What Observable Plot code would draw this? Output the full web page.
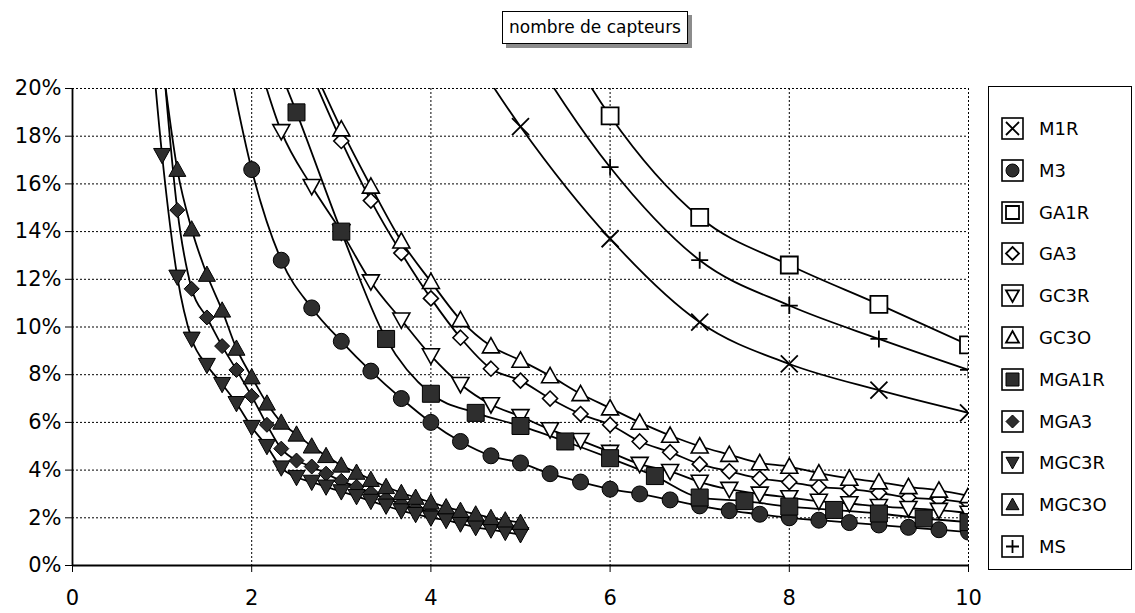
<!DOCTYPE html>
<html><head><meta charset="utf-8">
<script src="https://cdn.jsdelivr.net/npm/d3@7"></script>
<script src="https://cdn.jsdelivr.net/npm/@observablehq/plot@0.6"></script>
<style>
body{margin:0;background:#fff;font-family:"DejaVu Sans",sans-serif;}
#root{position:relative;width:1135px;height:613px;overflow:hidden;background:#fff}
#title{position:absolute;left:502px;top:11px;width:184px;height:31px;border:1px solid #000;background:#fff;box-shadow:4px 4px 0 #8c8c8c;font-size:17px;line-height:30px;text-align:center;color:#000}
#chart{position:absolute;left:0;top:48px}
#legend{position:absolute;left:988px;top:86px;width:144px;height:484px;border:1.5px solid #000;box-sizing:border-box;background:#fff}
.item{position:absolute;left:12px;display:flex;align-items:center;font-size:18px;color:#000}
.item svg{display:block;margin-right:15px}
</style>
</head><body>
<div id="root">
  <div id="title">nombre de capteurs</div>
  <div id="chart"></div>
  <div id="legend"></div>
</div>
<script>
// ---- data ----
const xTicks = [0, 2, 4, 6, 8, 10];
const yTicks = [0, 2, 4, 6, 8, 10, 12, 14, 16, 18, 20];
const seriesNames = ["M1R", "M3", "GA1R", "GA3", "GC3R", "GC3O", "MGA1R", "MGA3", "MGC3R", "MGC3O", "MS"];

const xUnits  = [4, 5, 6, 7, 8, 9, 10];
const xHalves = [2, 2.5, 3, 3.5, 4, 4.5, 5, 5.5, 6, 6.5, 7, 7.5, 8, 8.5, 9, 9.5, 10];
const xThirds = [1.67, 2, 2.33, 2.67, 3, 3.33, 3.67, 4, 4.33, 4.67, 5, 5.33, 5.67, 6, 6.33, 6.67, 7, 7.33, 7.67, 8, 8.33, 8.67, 9, 9.33, 9.67, 10];
const xSixths = [0.83, 1, 1.17, 1.33, 1.5, 1.67, 1.83, 2, 2.17, 2.33, 2.5, 2.67, 2.83, 3, 3.17, 3.33, 3.5, 3.67, 3.83, 4, 4.17, 4.33, 4.5, 4.67, 4.83, 5];

const M1R   = [24.2, 18.4, 13.7, 10.2, 8.45, 7.35, 6.4];
const GA1R  = [null, 25.3, 18.85, 14.6, 12.6, 10.95, 9.25];
const MS    = [null, 22.2, 16.7, 12.8, 10.9, 9.5, 8.2];
const MGA1R = [23.6, 19.0, 14.0, 9.5, 7.2, 6.4, 5.85, 5.2, 4.5, 3.75, 2.85, 2.7, 2.47, 2.33, 2.18, 1.97, 1.82];
const M3    = [22.5, 16.6, 12.8, 10.8, 9.4, 8.15, 7.0, 6.0, 5.2, 4.6, 4.3, 3.85, 3.5, 3.2, 3.0, 2.75, 2.5, 2.3, 2.15, 2.0, 1.9, 1.8, 1.7, 1.6, 1.5, 1.4];
const GC3R  = [null, 22.1, 18.2, 15.9, 14.0, 11.9, 10.3, 8.8, 7.6, 6.75, 6.25, 5.7, 5.25, 4.75, 4.25, 3.95, 3.5, 3.2, 3.0, 2.85, 2.7, 2.6, 2.48, 2.4, 2.32, 2.2];
const GA3   = [null, null, null, 20.6, 17.8, 15.3, 13.1, 11.2, 9.55, 8.25, 7.75, 7.0, 6.35, 5.9, 5.2, 4.75, 4.25, 3.95, 3.65, 3.5, 3.3, 3.2, 3.05, 2.85, 2.77, 2.62];
const GC3O  = [null, null, null, 21.0, 18.3, 15.9, 13.6, 11.9, 10.3, 9.2, 8.6, 7.95, 7.2, 6.6, 6.0, 5.45, 5.0, 4.65, 4.3, 4.15, 3.87, 3.65, 3.5, 3.3, 3.15, 2.92];
const MGC3R = [24.3, 17.2, 12.1, 9.5, 8.4, 7.6, 6.8, 5.8, 5.0, 4.1, 3.7, 3.5, 3.3, 3.1, 2.9, 2.7, 2.5, 2.3, 2.15, 2.0, 1.9, 1.75, 1.6, 1.5, 1.4, 1.3];
const MGC3O = [null, 21.2, 16.6, 14.1, 12.2, 10.7, 9.1, 7.9, 6.8, 6.0, 5.5, 5.0, 4.6, 4.2, 3.9, 3.6, 3.3, 3.05, 2.85, 2.65, 2.45, 2.3, 2.15, 2.0, 1.9, 1.8];
const MGA3  = [null, 21.7, 14.9, 11.6, 10.4, 9.2, 8.2, 7.1, 5.9, 4.9, 4.4, 4.15, 3.85, 3.55, 3.3, 3.05, 2.8, 2.6, 2.4, 2.25, 2.1, 1.95, 1.85, 1.7, 1.6, 1.5];

// ---- symbols ----
const rr = s => Math.sqrt(s / Math.PI);
const sym = {
  circle: {draw(c, s) { const r = rr(s); c.moveTo(r, 0); c.arc(0, 0, r, 0, 2 * Math.PI); }},
  square: {draw(c, s) { const r = rr(s); c.rect(-r, -r, 2 * r, 2 * r); }},
  diamond: {draw(c, s) { const r = rr(s); c.moveTo(0, -r); c.lineTo(r, 0); c.lineTo(0, r); c.lineTo(-r, 0); c.closePath(); }},
  up: {draw(c, s) { const r = rr(s); c.moveTo(0, -r); c.lineTo(r, r * 0.8); c.lineTo(-r, r * 0.8); c.closePath(); }},
  down: {draw(c, s) { const r = rr(s); c.moveTo(0, r); c.lineTo(r, -r * 0.8); c.lineTo(-r, -r * 0.8); c.closePath(); }},
  times: {draw(c, s) { const r = rr(s); c.moveTo(-r, -r); c.lineTo(r, r); c.moveTo(-r, r); c.lineTo(r, -r); }},
  plus: {draw(c, s) { const r = rr(s); c.moveTo(-r, 0); c.lineTo(r, 0); c.moveTo(0, -r); c.lineTo(0, r); }}
};
const DARK = "#2e2e2e";
const styles = {
  M1R:   {x: xUnits,  y: M1R,   symbol: sym.times,   r: 8.5, fill: "none",  sw: 1.8},
  M3:    {x: xThirds, y: M3,    symbol: sym.circle,  r: 8,   fill: DARK,    sw: 1},
  GA1R:  {x: xUnits,  y: GA1R,  symbol: sym.square,  r: 8.5, fill: "white", sw: 1.8},
  GA3:   {x: xThirds, y: GA3,   symbol: sym.diamond, r: 7.5, fill: "white", sw: 1.6},
  GC3R:  {x: xThirds, y: GC3R,  symbol: sym.down,    r: 8.5, fill: "white", sw: 1.6},
  GC3O:  {x: xThirds, y: GC3O,  symbol: sym.up,      r: 8.5, fill: "white", sw: 1.6},
  MGA1R: {x: xHalves, y: MGA1R, symbol: sym.square,  r: 8.5, fill: DARK,    sw: 1},
  MGA3:  {x: xSixths, y: MGA3,  symbol: sym.diamond, r: 7.5, fill: DARK,    sw: 1},
  MGC3R: {x: xSixths, y: MGC3R, symbol: sym.down,    r: 8.5, fill: DARK,    sw: 1},
  MGC3O: {x: xSixths, y: MGC3O, symbol: sym.up,      r: 8.5, fill: DARK,    sw: 1},
  MS:    {x: xUnits,  y: MS,    symbol: sym.plus,    r: 8.5, fill: "none",  sw: 1.8}
};

const rows = name => styles[name].x.map((x, i) => ({series: name, x, y: styles[name].y[i]})).filter(d => d.y != null);

const lineMarks = seriesNames.map(n => Plot.line(rows(n), {x: "x", y: "y", stroke: "#000", strokeWidth: 1.8, curve: "monotone-x", clip: true}));
const dotMarks = seriesNames.map(n => {
  const s = styles[n];
  return Plot.dot(rows(n), {x: "x", y: "y", symbol: s.symbol, r: s.r, fill: s.fill, stroke: "#000", strokeWidth: s.sw, clip: true});
});

const chart = Plot.plot({
  width: 990, height: 565,
  marginTop: 40, marginBottom: 48, marginLeft: 72, marginRight: 22,
  style: {fontFamily: '"DejaVu Sans", sans-serif', fontSize: "21px", color: "#000", background: "transparent", overflow: "visible"},
  x: {domain: [0, 10]},
  y: {domain: [0, 20]},
  marks: [
    Plot.gridY(yTicks.filter(d => d > 0), {stroke: "#000", strokeOpacity: 1, strokeWidth: 1, strokeDasharray: "2,2"}),
    Plot.gridX(xTicks.filter(d => d > 0), {stroke: "#000", strokeOpacity: 1, strokeWidth: 1, strokeDasharray: "2,2"}),
    Plot.axisY({ticks: yTicks, tickSize: 7, tickPadding: 4, tickFormat: d => d + "%", label: null, fill: "#000"}),
    Plot.axisX({ticks: xTicks, tickSize: 7, tickPadding: 18, tickFormat: d => String(d), label: null, fill: "#000"}),
    Plot.ruleX([0], {y1: 0, y2: 20, stroke: "#000", strokeWidth: 1.8}),
    Plot.ruleY([0], {stroke: "#000", strokeWidth: 1.8}),
    ...lineMarks,
    ...dotMarks
  ]
});
document.getElementById("chart").appendChild(chart);

// ---- legend ----
const legend = d3.select("#legend");
seriesNames.forEach((n, i) => {
  const s = styles[n];
  const item = legend.append("div").attr("class", "item").style("top", (30 + i * 41.8) + "px");
  const svg = item.append("svg").attr("width", 23).attr("height", 23);
  svg.append("rect").attr("x", 1).attr("y", 1).attr("width", 21).attr("height", 21).attr("fill", "white").attr("stroke", "#000").attr("stroke-width", 1.6);
  const p = d3.path();
  s.symbol.draw(p, Math.PI * 6.5 * 6.5);
  svg.append("path").attr("d", p.toString()).attr("transform", "translate(11.5,11.5)")
    .attr("fill", s.fill).attr("stroke", "#000").attr("stroke-width", s.fill === "none" || s.fill === "white" ? 1.8 : 1);
  item.append("span").text(n);
});
</script>
</body></html>
